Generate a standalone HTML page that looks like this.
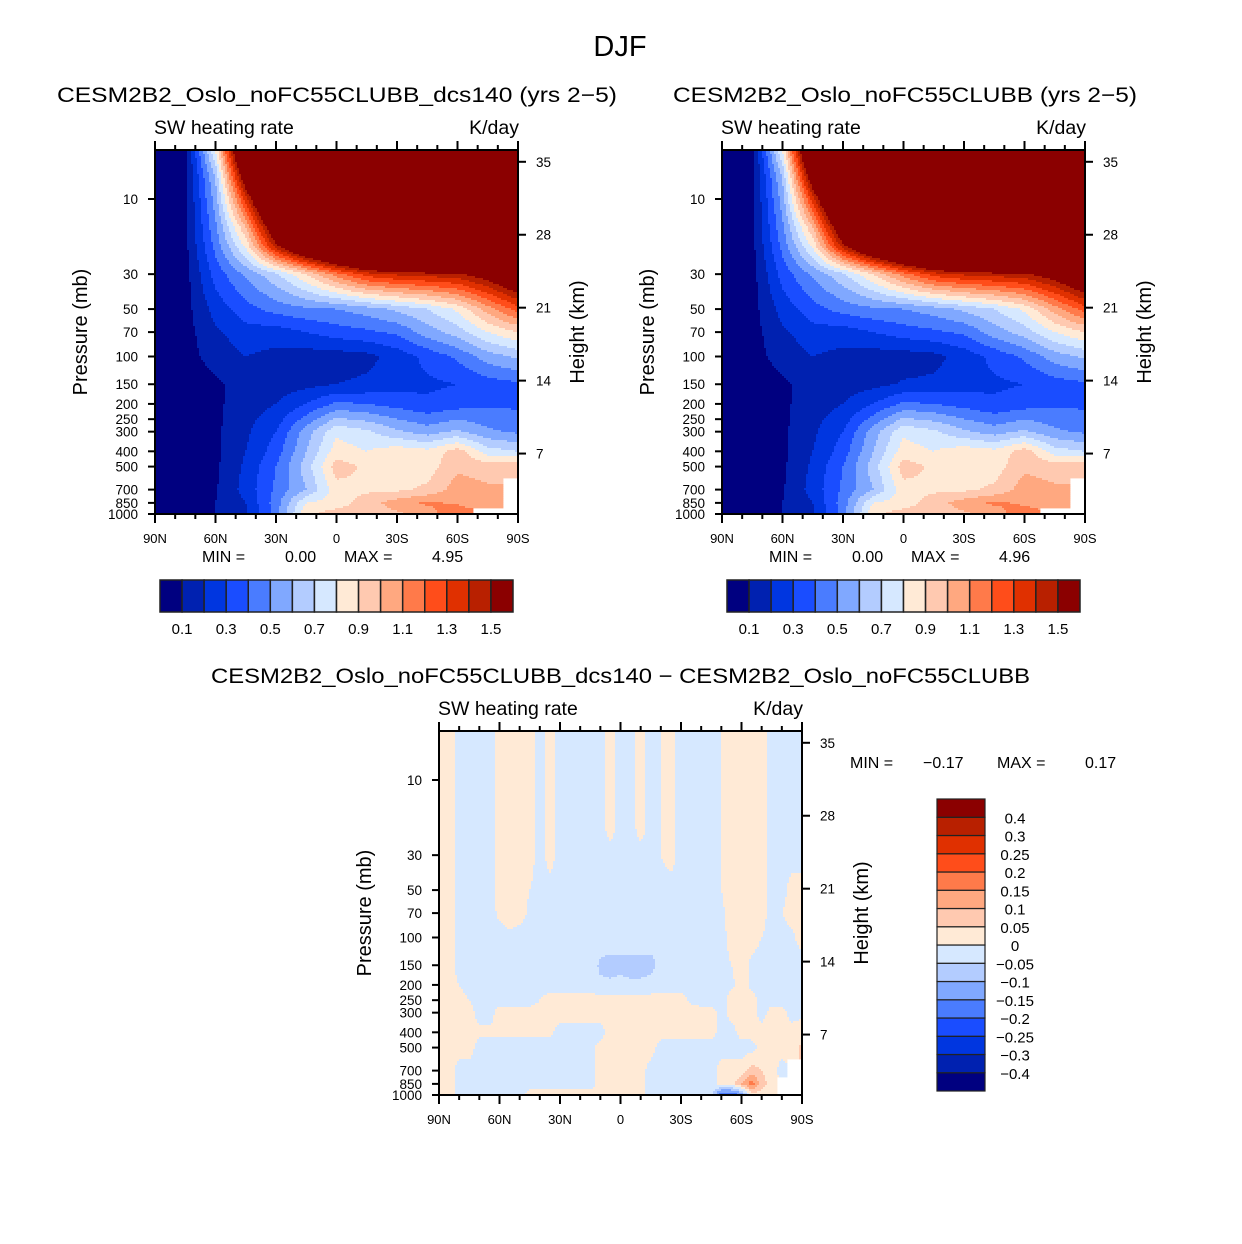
<!DOCTYPE html>
<html><head><meta charset="utf-8"><title>DJF SW heating rate</title>
<style>
html,body{margin:0;padding:0;background:#fff;}
svg{display:block;font-family:"Liberation Sans",sans-serif;}
</style></head>
<body>
<svg id="fig" width="1242" height="1244" viewBox="0 0 1242 1244" xmlns="http://www.w3.org/2000/svg">
<rect x="0" y="0" width="1242" height="1244" fill="#fff"/>
<text x="620" y="56" font-size="29" text-anchor="middle">DJF</text>
<text x="57" y="102" font-size="21" textLength="560" lengthAdjust="spacingAndGlyphs">CESM2B2_Oslo_noFC55CLUBB_dcs140 (yrs 2−5)</text>
<text x="673" y="102" font-size="21" textLength="464" lengthAdjust="spacingAndGlyphs">CESM2B2_Oslo_noFC55CLUBB (yrs 2−5)</text>
<text x="211" y="683" font-size="21" textLength="819" lengthAdjust="spacingAndGlyphs">CESM2B2_Oslo_noFC55CLUBB_dcs140 − CESM2B2_Oslo_noFC55CLUBB</text>
<g id="layer"></g>
</svg>
<script>
// ---------- data ----------
const latsTop = [90,75,60,45,30,15,0,-15,-30,-45,-60,-75,-90];
const presTop = [5,7,10,15,20,30,50,70,100,150,200,300,400,500,700,850,1000];
const heatA = [
[0.03,0.05,0.8,2.0,3.0,3.5,3.9,4.2,4.5,4.7,4.9,4.9,4.95],
[0.03,0.06,0.62,1.7,2.6,3.2,3.6,4.0,4.3,4.5,4.7,4.8,4.8],
[0.03,0.06,0.55,1.35,2.2,2.8,3.2,3.5,3.8,4.0,4.2,4.3,4.3],
[0.03,0.07,0.48,1.0,1.75,2.3,2.7,3.0,3.2,3.4,3.5,3.6,3.6],
[0.03,0.07,0.43,0.82,1.45,1.9,2.2,2.4,2.6,2.7,2.8,2.9,3.0],
[0.03,0.06,0.34,0.52,0.68,0.9,1.15,1.35,1.42,1.45,1.48,1.6,1.8],
[0.03,0.06,0.24,0.36,0.44,0.48,0.5,0.55,0.62,0.7,0.82,1.05,1.25],
[0.03,0.06,0.18,0.26,0.25,0.3,0.35,0.38,0.42,0.55,0.65,0.8,0.9],
[0.03,0.06,0.14,0.2,0.17,0.15,0.15,0.17,0.24,0.33,0.42,0.55,0.62],
[0.03,0.05,0.08,0.15,0.15,0.17,0.2,0.22,0.26,0.28,0.3,0.35,0.38],
[0.03,0.05,0.08,0.15,0.2,0.3,0.42,0.4,0.36,0.32,0.35,0.38,0.38],
[0.03,0.05,0.08,0.18,0.3,0.55,0.78,0.72,0.62,0.55,0.62,0.52,0.48],
[0.03,0.05,0.08,0.2,0.35,0.6,0.85,0.8,0.86,0.83,0.95,0.75,0.7],
[0.03,0.05,0.08,0.22,0.4,0.65,0.95,0.88,0.85,0.85,0.98,0.95,0.98],
[0.03,0.05,0.09,0.24,0.42,0.6,0.86,0.88,0.88,0.92,1.05,1.02,null],
[0.03,0.05,0.1,0.2,0.45,0.8,0.85,0.95,1.05,1.12,1.08,1.0,null],
[0.03,0.05,0.1,0.18,0.45,0.88,0.95,0.95,0.98,1.05,1.2,null,null]
];
const heatB = [
[0.03,0.05,0.8,2.0,3.0,3.5,3.9,4.2,4.5,4.7,4.9,4.9,4.96],
[0.03,0.06,0.62,1.7,2.6,3.2,3.6,4.0,4.3,4.5,4.7,4.8,4.8],
[0.03,0.06,0.55,1.35,2.2,2.8,3.2,3.5,3.8,4.0,4.2,4.3,4.3],
[0.03,0.07,0.48,1.0,1.75,2.3,2.7,3.0,3.2,3.4,3.5,3.6,3.6],
[0.03,0.07,0.43,0.82,1.45,1.9,2.2,2.4,2.6,2.7,2.8,2.9,3.0],
[0.03,0.06,0.34,0.52,0.68,0.9,1.15,1.35,1.42,1.45,1.48,1.6,1.8],
[0.03,0.06,0.24,0.36,0.44,0.48,0.5,0.55,0.62,0.7,0.82,1.05,1.25],
[0.03,0.06,0.18,0.26,0.25,0.3,0.35,0.38,0.42,0.55,0.65,0.8,0.9],
[0.03,0.06,0.14,0.2,0.17,0.15,0.15,0.17,0.24,0.33,0.42,0.55,0.62],
[0.03,0.05,0.08,0.15,0.15,0.17,0.21,0.22,0.26,0.28,0.3,0.35,0.38],
[0.03,0.05,0.08,0.15,0.2,0.3,0.42,0.4,0.36,0.32,0.35,0.38,0.38],
[0.03,0.05,0.08,0.18,0.3,0.55,0.78,0.72,0.62,0.55,0.62,0.52,0.48],
[0.03,0.05,0.08,0.2,0.35,0.6,0.85,0.8,0.86,0.83,0.95,0.75,0.7],
[0.03,0.05,0.08,0.22,0.4,0.65,0.95,0.88,0.85,0.85,0.98,0.95,0.98],
[0.03,0.05,0.09,0.24,0.42,0.6,0.86,0.88,0.88,0.92,1.05,1.02,null],
[0.03,0.05,0.1,0.2,0.45,0.8,0.85,0.95,1.05,1.12,1.08,1.0,null],
[0.03,0.05,0.1,0.18,0.45,0.88,0.95,0.95,0.98,1.05,1.18,null,null]
];
const heatLevels = [0.1,0.2,0.3,0.4,0.5,0.6,0.7,0.8,0.9,1.0,1.1,1.2,1.3,1.4,1.5];
const heatLabels = ['0.1','0.3','0.5','0.7','0.9','1.1','1.3','1.5'];
// difference (units: 0.01 K/day)
const latsDiff = [90,85,80,75,70,65,60,55,50,45,40,35,30,25,20,15,10,5,0,-5,-10,-15,-20,-25,-30,-35,-40,-45,-50,-55,-60,-65,-70,-75,-80,-85,-90];
const presDiff = [5,10,20,30,50,70,100,150,200,250,300,400,500,700,850,1000];
const diffCentiK = [
[2,2,-2,-2,-2,-2,2,2,2,2,-2,2,-2,-2,-2,-2,-2,2,-2,-2,2,-2,0,2,-2,-2,-2,-2,0,2,2,2,2,-2,-2,-2,-2],
[2,2,-2,-2,-2,-2,2,2,2,2,-2,2,-2,-2,-2,-2,-2,2,-2,-2,2,-2,0,2,-2,-2,-2,-2,0,2,2,2,2,-2,-2,-2,-2],
[2,2,-2,-2,-2,-2,2,2,2,2,-2,2,-2,-2,-2,-2,-2,2,-2,-2,2,-2,0,2,-2,-2,-2,-2,0,2,2,2,2,-2,-2,-2,-2],
[2,2,-2,-2,-2,-2,2,2,2,2,-2,2,-2,-2,-2,-2,-2,-2,-2,-2,-2,-2,0,2,-2,-2,-2,-2,0,2,2,2,2,-2,-2,-2,-2],
[2,2,-2,-2,-2,-2,2,2,2,0,-2,-2,-2,-2,-2,-2,-2,-2,-2,-2,-2,-2,-2,-2,-2,-2,-2,-2,0,2,2,2,2,-2,-2,2,2],
[2,2,-2,-2,-2,-2,1,2,2,-1,-2,-2,-2,-2,-2,-2,-2,-2,-2,-2,-2,-2,-2,-2,-2,-2,-2,-2,-1,2,2,2,2,-2,0,2,2],
[2,2,-2,-2,-2,-2,-2,-1,-2,-2,-2,-2,-2,-2,-2,-2,-2,-2,-2,-2,-2,-2,-2,-2,-2,-2,-2,-2,-2,2,2,2,0,-2,-2,-1,2],
[2,2,-2,-2,-2,-2,-2,-2,-2,-2,-2,-2,-2,-2,-2,-2,-6,-7,-7,-7,-7,-7,-3,-2,-2,-2,-2,-2,-2,0,2,-1,-2,-2,-2,-2,-2],
[2,2,0,-2,-2,-2,-2,-2,-2,-2,-2,-2,-2,-2,-2,-2,-4,-4,-3,-4,-4,-3,-2,-2,-2,-2,-2,-2,-2,-1,2,-1,-2,-2,-2,-2,-2],
[2,2,2,0,-2,-2,-2,-2,-2,-2,0,2,2,2,2,2,2,2,2,2,2,2,2,2,2,-1,-2,-2,-2,2,2,2,-2,-2,-2,-2,-2],
[2,2,2,2,-2,-2,2,2,2,2,2,2,2,2,2,2,2,2,2,2,2,2,2,2,2,2,2,2,-2,2,2,2,-2,2,2,-2,-2],
[2,2,2,2,1,1,1,1,1,1,1,1,-2,-2,-2,-2,-2,2,2,2,2,2,2,2,2,2,2,2,-2,-2,2,2,2,2,2,2,4],
[2,2,2,2,-2,-2,-2,-2,-2,-2,-2,-2,-2,-2,-2,-2,2,2,2,2,2,2,-2,-2,-2,-2,-2,-2,-2,-2,-2,-2,2,2,2,2,6],
[2,2,-2,-2,-2,-2,-2,-2,-2,-2,-2,-2,-2,-2,-2,-2,2,2,2,2,2,-2,-2,-2,-2,-2,-2,-2,2,2,2,7,5,2,-2,null,null],
[2,2,-2,-2,-2,-2,-2,-2,-2,-2,-2,-2,-2,-2,-2,-2,2,2,2,2,2,-2,-2,-2,-2,-2,-2,-2,2,2,10,18,8,2,null,null,null],
[2,2,-2,-2,-2,-2,-2,-2,-2,2,2,2,2,2,2,2,2,2,2,2,2,-2,-2,-2,-2,-2,-2,-2,-20,-20,-15,2,2,2,null,null,null]
];
const diffLevels = [-40,-30,-25,-20,-15,-10,-5,0,5,10,15,20,25,30,40];
const diffLabels = ['−0.4','−0.3','−0.25','−0.2','−0.15','−0.1','−0.05','0','0.05','0.1','0.15','0.2','0.25','0.3','0.4'];
const pTicks = [10,30,50,70,100,150,200,250,300,400,500,700,850,1000];
const latTickLabels = ['90N','60N','30N','0','30S','60S','90S'];
const hTicks = [7,14,21,28,35];
const palette = ['#000080','#0021b0','#0036e0','#1a4dff','#4a7cff','#80a8ff','#b3ccff','#d6e8ff','#ffead6','#ffc9b0','#ffa880','#ff7a4a','#ff4d1a','#e03000','#b82000','#8b0000'];

// ---------- drawing ----------
const NS = 'http://www.w3.org/2000/svg';
const layer = document.getElementById('layer');
function mk(tag, attrs, parent){ const e=document.createElementNS(NS,tag); for(const k in attrs) e.setAttribute(k,attrs[k]); (parent||layer).appendChild(e); return e; }
function txt(s, x, y, size, anchor, parent){ const t=mk('text',{x:x,y:y,'font-size':size,'text-anchor':anchor||'start'},parent); t.textContent=s; return t; }

function colorIndex(v, levels){ let c=0; for(const l of levels){ if(v>=l) c++; } return c; }

function sample(grid, fi, fk){
  const nr=grid.length, nc=grid[0].length;
  fi=Math.max(0,Math.min(nc-1,fi)); fk=Math.max(0,Math.min(nr-1,fk));
  const i0=Math.min(nc-2,Math.floor(fi)), k0=Math.min(nr-2,Math.floor(fk));
  const ti=fi-i0, tk=fk-k0;
  const near=grid[Math.round(fk)][Math.round(fi)];
  if(near===null || near===undefined) return null;
  const c=[[grid[k0][i0],(1-ti)*(1-tk)],[grid[k0][i0+1],ti*(1-tk)],[grid[k0+1][i0],(1-ti)*tk],[grid[k0+1][i0+1],ti*tk]];
  let s=0,w=0; for(const [v,wt] of c){ if(v!==null && v!==undefined){ s+=v*wt; w+=wt; } }
  return w>0 ? s/w : null;
}

function drawField(g, x0, y0, w, h, lats, pres, grid, levels){
  const lp = pres.map(p=>Math.log10(p));
  const step=2;
  for(let py=y0; py<y0+h; py+=step){
    const cy=py+step/2;
    const lpv = 3 - (y0+h-cy)/157.5;
    let k=0; while(k<lp.length-2 && lpv>lp[k+1]) k++;
    let fk = k + (lpv-lp[k])/(lp[k+1]-lp[k]);
    let runStart=x0, runCol=undefined;
    const hh=Math.min(step, y0+h-py);
    const flush=(xEnd)=>{
      if(runCol!==undefined && runCol!==null){
        const r=mk('rect',{x:runStart,y:py,width:(xEnd-runStart+0.4).toFixed(2),height:hh+0.4,fill:runCol},g);
        
        
      }
    };
    for(let px=x0; px<x0+w; px+=step){
      const cx=px+step/2;
      const lat = 90 - (cx-x0)/w*180;
      const fi = (lats[0]-lat)/(lats[0]-lats[lats.length-1])*(lats.length-1);
      const v = sample(grid, fi, fk);
      const col = (v===null) ? null : palette[colorIndex(v,levels)];
      if(col!==runCol){ flush(px); runStart=px; runCol=col; }
    }
    flush(x0+w);
  }
}

function drawAxes(g, x0, y0, w, h){
  mk('rect',{x:x0,y:y0,width:w,height:h,fill:'none',stroke:'#000','stroke-width':2},g);
  for(let d=0; d<=180; d+=10){
    const x = x0 + d/180*w;
    const L = (d%30===0)?9:5;
    mk('line',{x1:x,y1:y0,x2:x,y2:y0-L,stroke:'#000','stroke-width':2},g);
    mk('line',{x1:x,y1:y0+h,x2:x,y2:y0+h+L,stroke:'#000','stroke-width':2},g);
  }
  latTickLabels.forEach((s,i)=>{
    const t=txt(s, x0+i*w/6, y0+h+29, 13, 'middle', g);
    
    
  });
  pTicks.forEach(p=>{
    const y = y0+h - (3-Math.log10(p))*157.5;
    mk('line',{x1:x0,y1:y,x2:x0-7,y2:y,stroke:'#000','stroke-width':2},g);
    const t=txt(String(p), x0-17, y+5, 13.5, 'end', g);
    
    
  });
  hTicks.forEach(z=>{
    const y = y0 + 376.5 - 10.42*z;
    mk('line',{x1:x0+w,y1:y,x2:x0+w+8,y2:y,stroke:'#000','stroke-width':2},g);
    const t=txt(String(z), x0+w+18, y+5, 13.5, 'start', g);
    
    
  });
  const a=txt('SW heating rate', x0-1, y0-16, 19.5, 'start', g);
  
  
  const b=txt('K/day', x0+w+1, y0-16, 19.5, 'end', g);
  
  
  const pl=txt('Pressure (mb)', 0, 0, 20, 'middle', g);
  pl.setAttribute('transform',`translate(${x0-68},${y0+182}) rotate(-90)`);
  
  
  const hl=txt('Height (km)', 0, 0, 20, 'middle', g);
  hl.setAttribute('transform',`translate(${x0+w+66},${y0+182}) rotate(-90)`);
  
  
}

function panel(name, x0, y0, lats, pres, grid, levels){
  const g=mk('g',{});
  
  
  drawField(g, x0, y0, 363, 364, lats, pres, grid, levels);
  drawAxes(g, x0, y0, 363, 364);
  return g;
}

function hColorbar(x0, y0){
  const g=mk('g',{});
  
  
  const bw=353/16;
  palette.forEach((c,i)=>{
    const r=mk('rect',{x:x0+i*bw,y:y0,width:bw,height:32,fill:c,stroke:'#222','stroke-width':1.5},g);
    
    
  });
  heatLabels.forEach((s,j)=>{
    const t=txt(s, x0+(2*j+1)*bw, y0+54, 15, 'middle', g);
    
    
  });
}

function vColorbar(x0, yBottom){
  const g=mk('g',{});
  
  
  const bh=292/16;
  palette.forEach((c,i)=>{
    const r=mk('rect',{x:x0,y:yBottom-(i+1)*bh,width:48,height:bh,fill:c,stroke:'#222','stroke-width':1.2},g);
    
    
  });
  diffLabels.forEach((s,k)=>{
    const t=txt(s, x0+78, yBottom-(k+1)*bh+6, 15, 'middle', g);
    
    
  });
}

function minmax(xs, y, vals){
  ['MIN =',vals[0],'MAX =',vals[1]].forEach((s,i)=>{
    const t=txt(s, xs[i], y, 16, 'start');
    
    
  });
}

panel('panel-dcs140', 155, 150, latsTop, presTop, heatA, heatLevels);
panel('panel-control', 722, 150, latsTop, presTop, heatB, heatLevels);
panel('panel-difference', 439, 731, latsDiff, presDiff, diffCentiK, diffLevels);
hColorbar(160, 580);
hColorbar(727, 580);
vColorbar(937, 1091);
minmax([202,285,344,432], 562, ['0.00','4.95']);
minmax([769,852,911,999], 562, ['0.00','4.96']);
minmax([850,923,997,1085], 768, ['−0.17','0.17']);
</script>
</body></html>
